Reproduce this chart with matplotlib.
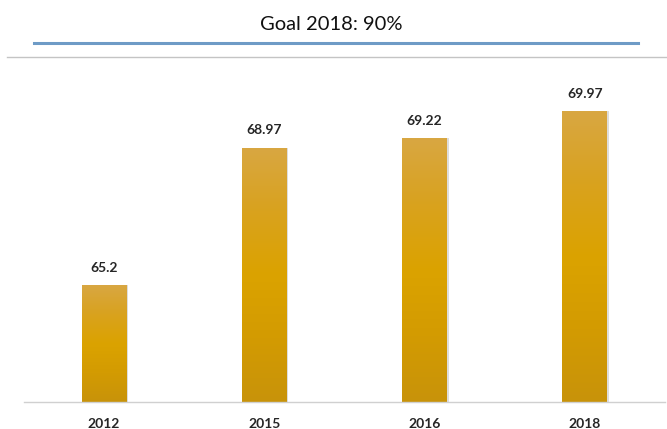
import matplotlib
matplotlib.use("Agg")
import matplotlib.pyplot as plt
import numpy as np
from matplotlib.colors import LinearSegmentedColormap
from matplotlib.lines import Line2D

years = ["2012", "2015", "2016", "2018"]
values = [65.2, 68.97, 69.22, 69.97]
value_labels = ["65.2", "68.97", "69.22", "69.97"]
title_text = "Goal 2018: 90%"

W, H = 667, 429
fig = plt.figure(figsize=(W / 100, H / 100), dpi=100)
fig.patch.set_facecolor("white")

# plot area in figure pixels
left_px, right_px, base_px, top_px = 24, 665, 402, 60
ax = fig.add_axes([left_px / W, (H - base_px) / H,
                   (right_px - left_px) / W, (base_px - top_px) / H])
ax.set_xlim(-0.5, len(years) - 0.5)
ax.set_ylim(62, 71.37)
ymin = ax.get_ylim()[0]

gold = LinearSegmentedColormap.from_list(
    "gold", ["#C8930A", "#D39B02", "#DBA300", "#D9A21E", "#D8A742"])

bars = ax.bar(range(len(years)), values, width=0.28, color="none",
              edgecolor="none", zorder=3)
for b, v in zip(bars, values):
    x0, w = b.get_x(), b.get_width()
    # soft drop shadow on the right edge
    ax.add_patch(plt.Rectangle((x0 + 0.01, ymin), w, v - ymin,
                               color="#BDBDBD", alpha=0.5, lw=0, zorder=2))
    grad = np.linspace(0, 1, 256).reshape(-1, 1)
    im = ax.imshow(grad, cmap=gold, origin="lower", aspect="auto",
                   extent=(x0, x0 + w, ymin, v), zorder=3)
    im.set_clip_path(b)

ax.set_xlim(-0.5, len(years) - 0.5)
ax.set_ylim(62, 71.37)

for i, (v, lab) in enumerate(zip(values, value_labels)):
    ax.annotate(lab, (i, v), xytext=(0, 8), textcoords="offset points",
                ha="center", va="bottom", fontsize=10, fontweight="bold",
                color="#262626", family="Lato")

ax.set_xticks(range(len(years)))
ax.set_xticklabels(years, fontsize=10, fontweight="bold", color="#262626",
                   family="Lato")
ax.tick_params(axis="x", length=0, pad=11.5)
ax.set_yticks([])
for s in ["top", "left", "right"]:
    ax.spines[s].set_visible(False)
ax.spines["bottom"].set_color("#D0D0D0")
ax.spines["bottom"].set_linewidth(1.0)
ax.spines["bottom"].set_zorder(4)

# header: title, blue rule, gray separator
fig.text(331 / W, 1 - 25 / H, title_text, ha="center", va="center",
         fontsize=14.5, color="#111111", family="Lato")
fig.add_artist(Line2D([34 / W, 638 / W], [1 - 43 / H, 1 - 43 / H],
                      color="#6E9BC6", lw=2.2))
fig.add_artist(Line2D([7 / W, 1.0], [1 - 57 / H, 1 - 57 / H],
                      color="#C4C4C4", lw=1.0))

fig.savefig("out.png", dpi=100, facecolor="white")
